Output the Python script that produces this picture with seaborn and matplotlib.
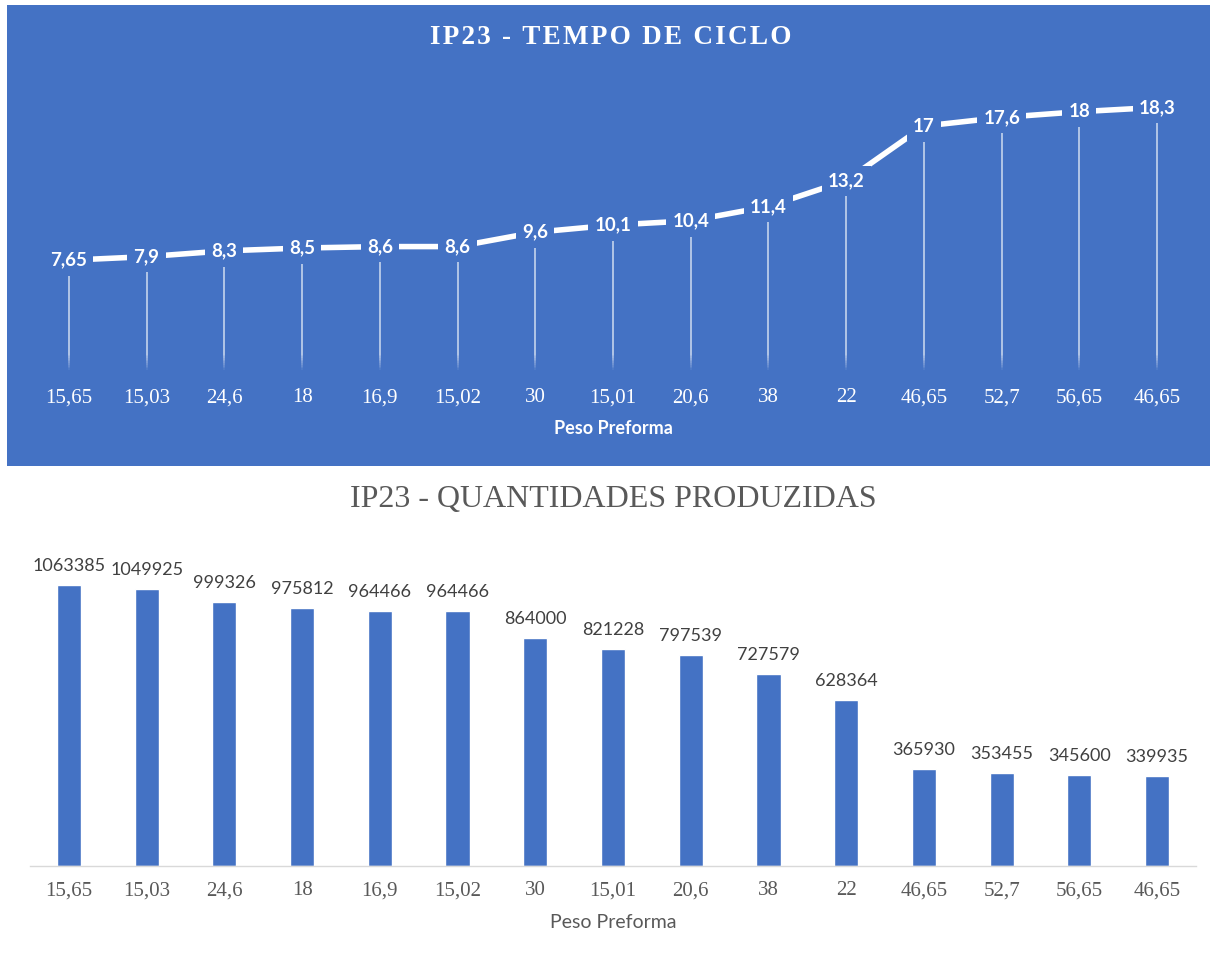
import numpy as np
import pandas as pd
import matplotlib
matplotlib.use('Agg')
import matplotlib.pyplot as plt
from matplotlib.patches import Rectangle
import seaborn as sns

# data
peso_labels = ['15,65', '15,03', '24,6', '18', '16,9', '15,02', '30', '15,01',
               '20,6', '38', '22', '46,65', '52,7', '56,65', '46,65']
tempo_ciclo = [7.65, 7.9, 8.3, 8.5, 8.6, 8.6, 9.6, 10.1, 10.4, 11.4, 13.2, 17, 17.6, 18, 18.3]
tempo_labels = ['7,65', '7,9', '8,3', '8,5', '8,6', '8,6', '9,6', '10,1', '10,4', '11,4',
                '13,2', '17', '17,6', '18', '18,3']
quantidades = [1063385, 1049925, 999326, 975812, 964466, 964466, 864000, 821228,
               797539, 727579, 628364, 365930, 353455, 345600, 339935]

blue = '#4472C4'
grey_txt = '#595959'
serif = ['Liberation Serif', 'DejaVu Serif']
sans = 'Lato'

sns.set_style('white')
plt.rcParams['font.family'] = ['DejaVu Sans']

W, H = 1216, 957
fig = plt.figure(figsize=(W / 100, H / 100), dpi=100)
fig.patch.set_facecolor('white')

# blue card behind the top chart
fig.patches.append(Rectangle((7 / W, 1 - 466 / H), (1210 - 7) / W, (466 - 5) / H,
                             transform=fig.transFigure, facecolor=blue,
                             edgecolor='none', zorder=-10))

pos = np.arange(len(peso_labels))
df = pd.DataFrame({'pos': pos, 'tempo': tempo_ciclo, 'qtd': quantidades})

# ---------------- top: tempo de ciclo ----------------
ax1 = fig.add_axes([30 / W, 1 - 370 / H, (1196 - 30) / W, (370 - 83) / H])
ax1.set_facecolor('none')
sns.lineplot(data=df, x='pos', y='tempo', ax=ax1, color='white', lw=4,
             solid_capstyle='butt', zorder=3)

# drop lines, fading near the bottom
for x, v in zip(pos, tempo_ciclo):
    ax1.plot([x, x], [1.2, v - 1.1], color='white', lw=1.1, alpha=0.75, zorder=2,
             solid_capstyle='butt')
    steps = 10
    for k in range(steps):
        y0 = 1.2 * k / steps
        y1 = 1.2 * (k + 1) / steps
        ax1.plot([x, x], [y0, y1], color='white', lw=1.1,
                 alpha=0.75 * (k + 1) / steps, zorder=2, solid_capstyle='butt')

for x, v, lab in zip(pos, tempo_ciclo, tempo_labels):
    ax1.text(x, v, lab, ha='center', va='center', color='white', fontsize=13.5,
             fontweight='bold', family=sans, zorder=4,
             bbox=dict(facecolor=blue, edgecolor='none', pad=4.5))

ax1.set_xlim(-0.5, 14.5)
ax1.set_ylim(0, 20)
ax1.set_xticks(pos)
ax1.set_xticklabels(peso_labels, family=serif, fontsize=15, color='white')
ax1.tick_params(axis='x', length=0, pad=13)
ax1.set_yticks([])
ax1.set_xlabel('Peso Preforma', color='white', fontsize=13, fontweight='bold',
               family=sans, labelpad=9)
ax1.set_ylabel('')
sns.despine(ax=ax1, left=True, bottom=True)
title_top = '\u200a'.join('IP23 - TEMPO DE CICLO')
fig.text(611 / W, 1 - 38 / H, title_top, ha='center', va='center',
         color='white', fontsize=19.5, fontweight='bold', family=serif)

# ---------------- bottom: quantidades produzidas ----------------
ax2 = fig.add_axes([30 / W, 1 - 866 / H, (1196 - 30) / W, (866 - 549) / H])
sns.barplot(data=df, x='pos', y='qtd', ax=ax2, color=blue, width=0.31,
            saturation=1)
ax2.bar_label(ax2.containers[0], labels=[str(q) for q in quantidades],
              padding=8, fontsize=13, color='#404040', family=sans)

ax2.set_xlim(-0.5, 14.5)
ax2.set_ylim(0, 1.2e6)
ax2.set_xticks(np.arange(-0.5, 15, 1), minor=True)
ax2.set_xticks(pos)
ax2.set_xticklabels(peso_labels, family=serif, fontsize=15, color=grey_txt)
ax2.tick_params(axis='x', which='major', length=0, pad=11)
ax2.tick_params(axis='x', which='minor', length=5, width=1, color='#D9D9D9',
                direction='out')
ax2.set_yticks([])
ax2.set_xlabel('Peso Preforma', color=grey_txt, fontsize=14, family=sans, labelpad=10)
ax2.set_ylabel('')
sns.despine(ax=ax2, left=True)
ax2.spines['bottom'].set_color('#D9D9D9')
ax2.spines['bottom'].set_linewidth(1)
fig.text(613 / W, 1 - 500 / H, 'IP23 - QUANTIDADES PRODUZIDAS', ha='center',
         va='center', color=grey_txt, fontsize=23, family=serif)

fig.savefig('out.png', dpi=100)
